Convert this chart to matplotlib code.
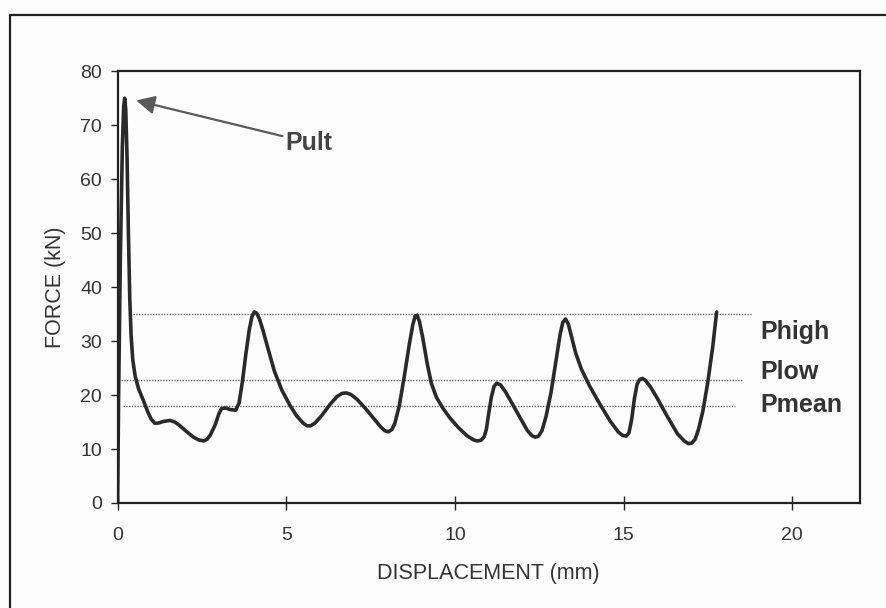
import matplotlib.pyplot as plt
from matplotlib.patches import Rectangle

plt.rcParams['font.family'] = ['Liberation Sans', 'DejaVu Sans']

# force-displacement curve read from the test record
disp = [0.0, 0.03, 0.08, 0.14, 0.18, 0.21, 0.24, 0.28, 0.32, 0.36, 0.4, 0.45,
        0.52, 0.62, 0.75, 0.9, 1.0, 1.1, 1.2, 1.35, 1.55, 1.7, 1.85, 2.05,
        2.25, 2.4, 2.55, 2.65, 2.75, 2.9, 3.0, 3.08, 3.2, 3.35, 3.5, 3.6,
        3.7, 3.8, 3.9, 3.98, 4.05, 4.12, 4.2, 4.3, 4.45, 4.65, 4.87, 5.1,
        5.3, 5.5, 5.62, 5.72, 5.85, 6.05, 6.3, 6.5, 6.65, 6.78, 6.92, 7.1,
        7.35, 7.6, 7.8, 7.92, 8.03, 8.13, 8.22, 8.35, 8.5, 8.65, 8.75, 8.82,
        8.88, 8.95, 9.05, 9.18, 9.3, 9.45, 9.65, 9.86, 10.1, 10.35, 10.55,
        10.66, 10.77, 10.86, 10.93, 11.0, 11.08, 11.16, 11.24, 11.35, 11.5,
        11.7, 11.95, 12.15, 12.28, 12.38, 12.48, 12.58, 12.7, 12.85, 13.0,
        13.12, 13.2, 13.28, 13.36, 13.45, 13.58, 13.75, 14.0, 14.3, 14.6,
        14.85, 14.98, 15.08, 15.16, 15.24, 15.32, 15.4, 15.48, 15.56, 15.65,
        15.8, 16.0, 16.3, 16.6, 16.8, 16.92, 17.02, 17.12, 17.22, 17.35,
        17.5, 17.64, 17.76]
force = [0, 20, 45, 66, 73.5, 75, 73, 64, 50, 38, 31, 26.5,
         23.5, 21.2, 19.2, 16.8, 15.5, 14.8, 14.8, 15.1, 15.3, 15.0, 14.3, 13.2,
         12.2, 11.7, 11.5, 11.8, 12.6, 14.6, 16.5, 17.5, 17.6, 17.3, 17.2, 18.5,
         22.5, 27.5, 32, 34.5, 35.4, 35.2, 34.2, 32.2, 28.8, 24.4, 20.9, 18.2,
         16.2, 14.8, 14.3, 14.3, 14.8, 16.2, 18.3, 19.7, 20.3, 20.4, 20.1, 19.2,
         17.5, 15.6, 14.1, 13.4, 13.2, 13.6, 14.8, 18.0, 23.5, 29.5, 33.0, 34.6,
         34.8, 33.6, 30.5, 25.8, 22.2, 19.6, 17.5, 15.7, 14.0, 12.5, 11.7,
         11.5, 11.6, 12.2, 13.6, 16.5, 19.6, 21.6, 22.2, 21.9, 20.6,
         18.4, 15.6, 13.4, 12.5, 12.2, 12.4, 13.4, 16.0, 20.5, 26.5,
         31.3, 33.5, 34.1, 33.2, 31.0, 27.8, 24.8, 21.6, 18.3, 15.2,
         13.1, 12.5, 12.4, 13.0, 15.5, 19.3, 22.0, 22.9, 23.1, 22.7,
         21.5, 19.4, 16.0, 12.8, 11.5, 11.0, 11.1, 11.8, 13.6, 17.0,
         22.5, 28.8, 35.4]

# reference levels: name, force, start and end of the dotted line
level_names = ['Phigh', 'Plow', 'Pmean']
level_force = [35.0, 22.8, 18.0]
level_start = [0.45, 0.1, 0.15]
level_end = [18.8, 18.5, 18.3]
label_y = [31.7, 24.3, 18.1]

pult_tip = (0.55, 74.6)
pult_text = (4.97, 66.8)

xticks = [0, 5, 10, 15, 20]
yticks = [0, 10, 20, 30, 40, 50, 60, 70, 80]

txt = '#333333'

fig = plt.figure(figsize=(8.87, 6.08), dpi=100)
fig.patch.set_facecolor('#fdfdfd')
# outer border round the chart
fig.patches.append(Rectangle((10 / 887, -0.05), 1.0, 1 - 14.5 / 608 + 0.05,
                             transform=fig.transFigure, fill=False,
                             edgecolor='#222222', lw=1.6))

ax = fig.add_axes([0.1326, 0.1727, 0.8366, 0.71])
ax.set_facecolor('#fdfdfd')

for name, f, x0, x1 in zip(level_names, level_force, level_start, level_end):
    ax.plot([x0, x1], [f, f], ls=(0, (1, 1)), color='#666666', lw=1.0)

ax.plot(disp, force, color='#2a2a2a', lw=2.6, solid_joinstyle='round',
        solid_capstyle='round')

for name, y in zip(level_names, label_y):
    ax.text(19.05, y, name, fontsize=18, fontweight='bold', color=txt,
            va='center', ha='left')

ax.annotate('Pult', xy=pult_tip, xytext=pult_text, fontsize=18,
            fontweight='bold', color='#444444', va='center', ha='left',
            arrowprops=dict(arrowstyle='-|>', color='#5a5a5a', lw=1.6,
                            mutation_scale=28, shrinkA=0, shrinkB=0))

ax.set_xlim(0, 22)
ax.set_ylim(0, 80)
ax.set_xticks(xticks)
ax.set_yticks(yticks)

for s in ax.spines.values():
    s.set_linewidth(1.6)
    s.set_color('#222222')

ax.tick_params(axis='x', direction='inout', length=9.6, width=1.0, pad=12.5,
               labelsize=14, colors='#222222', labelcolor=txt)
ax.tick_params(axis='y', direction='out', length=4.8, width=1.0, pad=6.5,
               labelsize=14, colors='#222222', labelcolor=txt)

ax.set_xlabel('DISPLACEMENT (mm)', fontsize=15.5, color=txt, labelpad=14)
ax.set_ylabel('FORCE (kN)', fontsize=15.5, color=txt, labelpad=10)

fig.savefig('out.png', dpi=100, facecolor=fig.get_facecolor())
